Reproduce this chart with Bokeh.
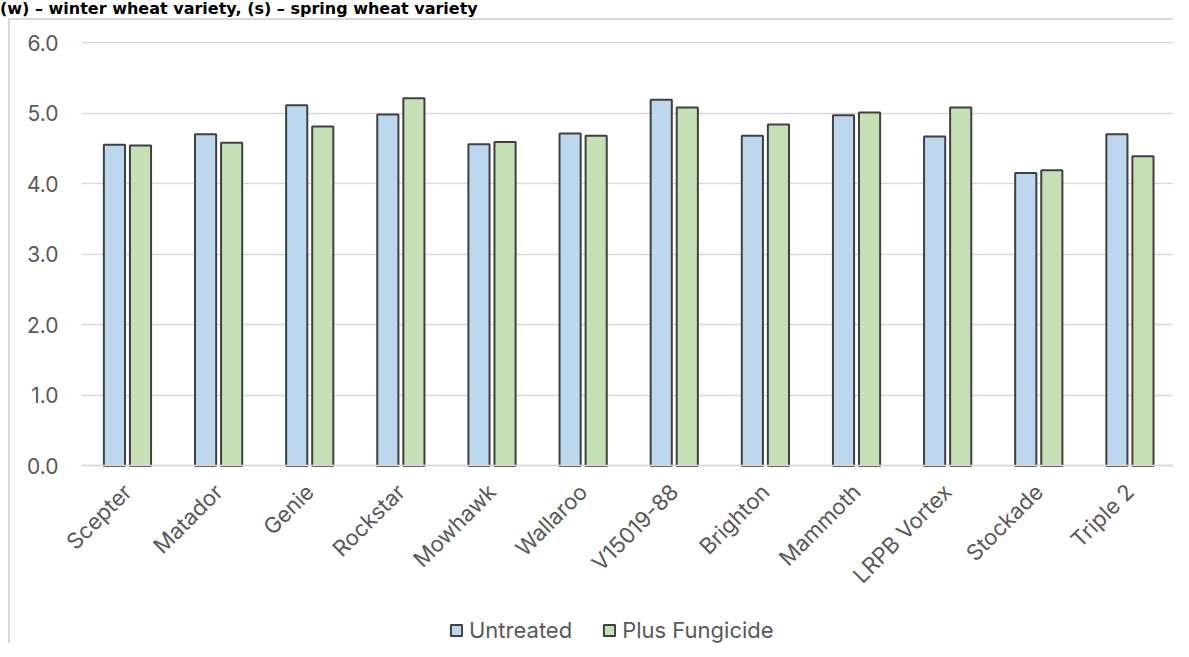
import math
from bokeh.plotting import figure
from bokeh.layouts import column
from bokeh.models import (Range1d, FixedTicker, PrintfTickFormatter, BoxAnnotation,
                          Legend, LegendItem, ColumnDataSource, Div)
from bokeh.transform import dodge
from bokeh.embed import file_html
from bokeh.resources import INLINE

varieties = ["Scepter", "Matador", "Genie", "Rockstar", "Mowhawk", "Wallaroo",
             "V15019-88", "Brighton", "Mammoth", "LRPB Vortex", "Stockade", "Triple 2"]
untreated = [4.55, 4.70, 5.11, 4.98, 4.56, 4.71, 5.19, 4.68, 4.97, 4.67, 4.15, 4.70]
fungicide = [4.54, 4.58, 4.81, 5.21, 4.59, 4.68, 5.08, 4.84, 5.01, 5.08, 4.19, 4.39]
series_names = ["Untreated", "Plus Fungicide"]
y_ticks = [0, 1, 2, 3, 4, 5, 6]
title_text = "(w) \u2013 winter wheat variety, (s) \u2013 spring wheat variety"

positions = list(range(len(varieties)))
src = ColumnDataSource(dict(pos=positions, variety=varieties,
                            untreated=untreated, fungicide=fungicide))

# frame extends below zero (labels + legend) and a little left of the first category
p = figure(frame_width=1108, frame_height=602,
           x_range=Range1d(-0.68, len(varieties) - 0.5),
           y_range=Range1d(-2.545, 6.015),
           output_backend="svg", toolbar_location=None,
           min_border_left=55, min_border_right=0,
           min_border_top=21, min_border_bottom=0)
p.margin = (0, 0, 0, 8)
p.styles = {"border-top": "2px solid #d9d9d9", "border-left": "2px solid #d9d9d9"}

p.outline_line_color = None
p.background_fill_color = "white"
p.border_fill_color = "white"

FONT = "Inter"
GREY = "#595959"

p.xgrid.grid_line_color = None
p.ygrid.grid_line_color = "#d9d9d9"
p.ygrid.grid_line_width = 1.4
p.ygrid.level = "underlay"

# white strip hiding the grid left of the first category
p.add_layout(BoxAnnotation(right=-0.5, fill_color="white", fill_alpha=1.0,
                           line_color=None, level="underlay"))

r1 = p.vbar(x=dodge("pos", -0.143), top="untreated", width=0.232,
            source=src, fill_color="#BDD7EE", line_color="#404040", line_width=2)
r2 = p.vbar(x=dodge("pos", 0.143), top="fungicide", width=0.232,
            source=src, fill_color="#C5E0B4", line_color="#404040", line_width=2)

p.yaxis.ticker = FixedTicker(ticks=y_ticks)
p.yaxis.formatter = PrintfTickFormatter(format="%.1f")
p.yaxis.axis_line_color = None
p.yaxis.major_tick_line_color = None
p.yaxis.major_tick_out = 0
p.yaxis.major_tick_in = 0
p.yaxis.minor_tick_line_color = None
p.yaxis.major_label_standoff = 7
p.yaxis.major_label_text_font = FONT
p.yaxis.major_label_text_font_size = "21px"
p.yaxis.major_label_text_color = GREY

p.xaxis.fixed_location = 0
p.xaxis.bounds = (-0.5, len(varieties) - 0.5)
p.xaxis.ticker = FixedTicker(ticks=positions)
p.xaxis.major_label_overrides = {i: name for i, name in zip(positions, varieties)}
p.xaxis.axis_line_color = "#d9d9d9"
p.xaxis.axis_line_width = 1.4
p.xaxis.major_tick_line_color = None
p.xaxis.major_tick_out = 0
p.xaxis.major_tick_in = 0
p.xaxis.minor_tick_line_color = None
p.xaxis.major_label_orientation = math.pi / 4
p.xaxis.major_label_standoff = 22
p.xaxis.major_label_text_font = FONT
p.xaxis.major_label_text_font_size = "22px"
p.xaxis.major_label_text_color = GREY

legend = Legend(items=[LegendItem(label=series_names[0], renderers=[r1]),
                       LegendItem(label=series_names[1], renderers=[r2])],
                orientation="horizontal", location=(384, 2),
                border_line_color=None, background_fill_alpha=0,
                padding=0, margin=0, spacing=30, label_standoff=6,
                glyph_width=14, glyph_height=14,
                label_text_font=FONT, label_text_font_size="22px",
                label_text_color=GREY)
p.add_layout(legend, "center")

title = Div(text=title_text, width=1163, height=18, margin=(0, 0, 0, 0),
            styles={"font-family": "DejaVu Sans", "font-weight": "bold",
                    "font-size": "16px", "line-height": "18px", "color": "black",
                    "white-space": "nowrap"})

layout = column(title, p, spacing=0)

open("out.html", "w").write(file_html(layout, INLINE))
